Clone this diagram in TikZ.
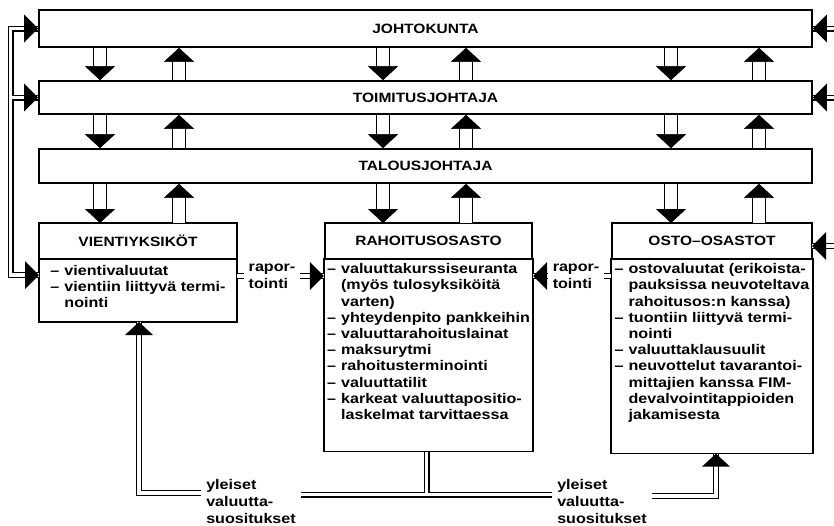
\documentclass[tikz,border=0pt]{standalone}
\usepackage{fontspec}
\setmainfont{Liberation Sans}[FakeStretch=1.15]
\usetikzlibrary{arrows.meta,positioning}

\newcommand{\itm}{\makebox[14pt][l]{–}}
\newcommand{\cnt}{\hspace*{14pt}}
\newcommand{\lst}[1]{\begin{tabular}{@{}l@{}}#1\end{tabular}}
% solid heads on the thin double lines, tip at #1
\newcommand{\headR}[1]{\fill (#1) -- ++(-14,-14) -- ++(0,28) -- cycle;}
\newcommand{\headL}[1]{\fill (#1) -- ++(14,-14) -- ++(0,28) -- cycle;}
\newcommand{\headU}[1]{\fill (#1) -- ++(-14,13) -- ++(28,0) -- cycle;}

\begin{document}
\begin{tikzpicture}[
    x=1pt, y=-1pt,
    level/.style={rectangle, draw, line width=1.6pt, minimum width=773pt, align=center, font=\fontsize{13.5}{16}\selectfont\bfseries},
    unithead/.style={rectangle, draw, line width=1.6pt, outer sep=0pt, minimum height=36pt, font=\fontsize{13.5}{16}\selectfont\bfseries},
    unitbody/.style={rectangle, draw, line width=1.6pt, outer sep=0pt, font=\fontsize{14}{16.2}\selectfont\bfseries},
    note/.style={align=left, inner xsep=5pt, font=\fontsize{14}{17}\selectfont\bfseries},
    flow/.style={double, double distance=12pt, line width=1.4pt, -{Triangle[width=30pt, length=14pt, line width=0.4pt]}},
    link/.style={double, double distance=3.6pt, line width=1.2pt}
]
    \useasboundingbox (0,0) rectangle (834,525);

    % Management levels
    \node[level, minimum height=37pt] (johto) at (425.5, 28.5) {JOHTOKUNTA};
    \node[level, minimum height=33pt] (toimitus) at (425.5, 97.5) {TOIMITUSJOHTAJA};
    \node[level, minimum height=34pt] (talous) at (425.5, 166) {TALOUSJOHTAJA};

    % Units
    \node[unithead, minimum width=198pt] (vhead) at (138, 241) {VIENTIYKSIKÖT};
    \node[unitbody, minimum width=198pt, minimum height=63pt, below=0pt of vhead] (vbody) {\lst{%
        \itm vientivaluutat\\
        \itm vientiin liittyvä termi-\\
        \cnt nointi\\[4pt]}};
    \node[unithead, minimum width=207pt] (rhead) at (428.5, 241) {RAHOITUSOSASTO};
    \node[unitbody, minimum width=207pt, minimum height=188pt, below=0pt of rhead] (rbody) {\lst{%
        \itm valuuttakurssiseuranta\\
        \cnt (myös tulosyksiköitä\\
        \cnt varten)\\
        \itm yhteydenpito pankkeihin\\
        \itm valuuttarahoituslainat\\
        \itm maksurytmi\\
        \itm rahoitusterminointi\\
        \itm valuuttatilit\\
        \itm karkeat valuuttapositio-\\
        \cnt laskelmat tarvittaessa\\[24pt]}};
    \node[unithead, minimum width=200pt] (ohead) at (712, 241) {OSTO–OSASTOT};
    \node[unitbody, minimum width=200pt, minimum height=188pt, below=0pt of ohead] (obody) {\lst{%
        \itm ostovaluutat (erikoista-\\
        \cnt pauksissa neuvoteltava\\
        \cnt rahoitusos:n kanssa)\\
        \itm tuontiin liittyvä termi-\\
        \cnt nointi\\
        \itm valuuttaklausuulit\\
        \itm neuvottelut tavarantoi-\\
        \cnt mittajien kanssa FIM-\\
        \cnt devalvointitappioiden\\
        \cnt jakamisesta\\[26pt]}};

    % Side notes
    \node[note] (rap1) at (272, 276) {rapor-\\tointi};
    \node[note] (rap2) at (576, 276) {rapor-\\tointi};
    \node[note] (yl1) at (251, 501) {yleiset\\valuutta-\\suositukset};
    \node[note] (yl2) at (602, 501) {yleiset\\valuutta-\\suositukset};

    % Arrow columns
    \coordinate (d1) at (100, 0);
    \coordinate (u1) at (179, 0);
    \coordinate (d2) at (383, 0);
    \coordinate (u2) at (466, 0);
    \coordinate (d3) at (671, 0);
    \coordinate (u3) at (759, 0);

    % Down and up between the levels
    \draw[flow] (johto.south -| d1) -- (toimitus.north -| d1);
    \draw[flow] (johto.south -| d2) -- (toimitus.north -| d2);
    \draw[flow] (johto.south -| d3) -- (toimitus.north -| d3);
    \draw[flow] (toimitus.north -| u1) -- (johto.south -| u1);
    \draw[flow] (toimitus.north -| u2) -- (johto.south -| u2);
    \draw[flow] (toimitus.north -| u3) -- (johto.south -| u3);
    \draw[flow] (toimitus.south -| d1) -- (talous.north -| d1);
    \draw[flow] (toimitus.south -| d2) -- (talous.north -| d2);
    \draw[flow] (toimitus.south -| d3) -- (talous.north -| d3);
    \draw[flow] (talous.north -| u1) -- (toimitus.south -| u1);
    \draw[flow] (talous.north -| u2) -- (toimitus.south -| u2);
    \draw[flow] (talous.north -| u3) -- (toimitus.south -| u3);
    \draw[flow] (talous.south -| d1) -- (vhead.north -| d1);
    \draw[flow] (talous.south -| d2) -- (rhead.north -| d2);
    \draw[flow] (talous.south -| d3) -- (ohead.north -| d3);
    \draw[flow] (vhead.north -| u1) -- (talous.south -| u1);
    \draw[flow] (rhead.north -| u2) -- (talous.south -| u2);
    \draw[flow] (ohead.north -| u3) -- (talous.south -| u3);

    % Left line to the levels
    \coordinate (lx) at (10.5, 0);
    \coordinate (vin) at ([yshift=15.5pt]vbody.west);
    \draw[link] (johto.west) -| (lx |- vin) -- (vin) (lx |- toimitus.west) -- (toimitus.west);
    \headR{johto.west}
    \headR{toimitus.west}
    \headR{vin}

    % Right stubs
    \coordinate (rx) at (834, 0);
    \coordinate (oin) at ([yshift=-5pt]ohead.east);
    \draw[link] (rx |- johto.east) -- (johto.east);
    \draw[link] (rx |- toimitus.east) -- (toimitus.east);
    \draw[link] (rx |- oin) -- (oin);
    \headL{johto.east}
    \headL{toimitus.east}
    \headL{oin}

    % Reporting
    \coordinate (rin1) at (rbody.west |- rap1.east);
    \coordinate (rin2) at (rbody.east |- rap2.west);
    \draw[link] (vbody.east |- rap1.west) -- (rap1.west);
    \draw[link] (rap1.east) -- (rin1);
    \draw[link] (rap2.west) -- (rin2);
    \draw[link] (obody.west |- rap2.east) -- (rap2.east);
    \headR{rin1}
    \headL{rin2}

    % General recommendations
    \coordinate (vup) at (139, 493);
    \coordinate (rdn) at (426.5, 494.5);
    \coordinate (oup) at (716, 496);
    \coordinate (vout) at (vbody.south -| vup);
    \coordinate (oout) at (obody.south -| oup);
    \draw[link] (yl1.west |- vup) -- (vup) -- (vout);
    \draw[link] (yl1.east |- rdn) -- (yl2.west |- rdn) (rbody.south -| rdn) -- (rdn);
    \draw[link] (yl2.east |- oup) -- (oup) -- (oout);
    \headU{vout}
    \headU{oout}
\end{tikzpicture}
\end{document}
